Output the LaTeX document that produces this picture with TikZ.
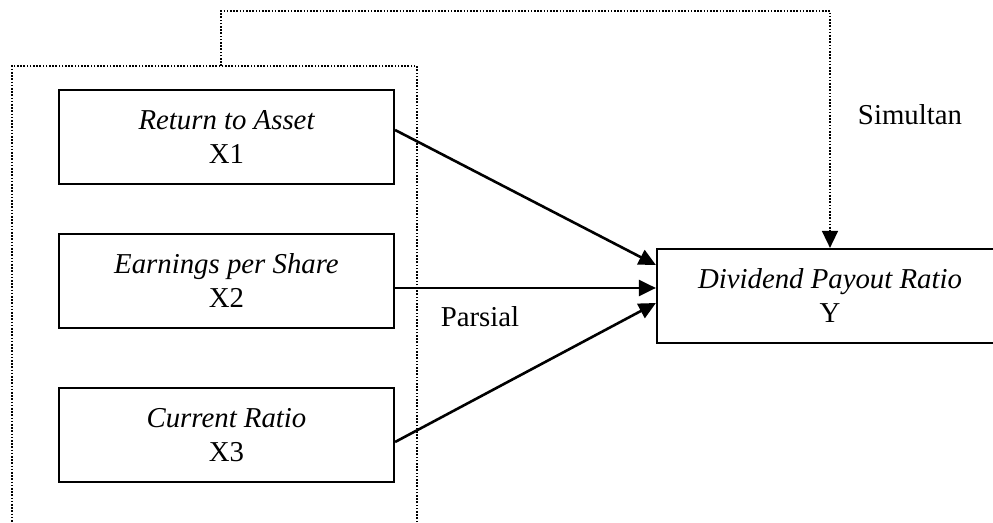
\documentclass[tikz,border=0pt]{standalone}
\usepackage{fontspec}
\setmainfont{Liberation Serif}
\usetikzlibrary{arrows.meta,calc}
\begin{document}
\begin{tikzpicture}[x=0.5pt,y=-0.5pt,
  txt/.style={font=\fontsize{14.4}{17}\selectfont},
  box/.style={draw,line width=1.1pt,minimum width=167.5pt,minimum height=47pt,align=center,inner sep=0pt,txt},
  ybox/.style={box,minimum width=173pt},
  dotline/.style={line width=0.8pt,dash pattern=on 0.8pt off 0.8pt},
  tip/.style={-{Triangle[length=8.5pt,width=8pt]}},
  arr/.style={line width=1.3pt,tip},
  lbl/.style={txt,inner sep=0pt,anchor=base}]
\useasboundingbox (0,0) rectangle (993,523);
% dotted group
\node[dotline,draw,minimum width=202.5pt,minimum height=232pt,inner sep=0pt] (grp) at (214.3,298) {};
% boxes
\node[box] (X1) at (226.5,137) {\itshape Return to Asset\\X1};
\node[box] (X2) at (226.5,281) {\itshape Earnings per Share\\X2};
\node[box] (X3) at (226.5,435) {\itshape Current Ratio\\X3};
\node[ybox] (Y) at (830,296) {\itshape Dividend Payout Ratio\\Y};
% labels
\node[lbl] (sim) at (910,125) {Simultan};
\node[lbl] (par) at (480,327) {Parsial};
% arrows
\draw[arr] ($(X1.east)+(0,-7)$) -- ($(Y.west)+(0,-31)$);
\draw[arr] ($(X2.east)+(0,7)$) -- ($(Y.west)+(0,-8)$);
\draw[arr] ($(X3.east)+(0,7)$) -- ($(Y.west)+(0,7)$);
% simultaneous dotted connector
\coordinate (top) at (221,66);
\coordinate (corner) at (830,11);
\draw[dotline,tip] (top) |- (corner) -- (Y.north);
\end{tikzpicture}
\end{document}
